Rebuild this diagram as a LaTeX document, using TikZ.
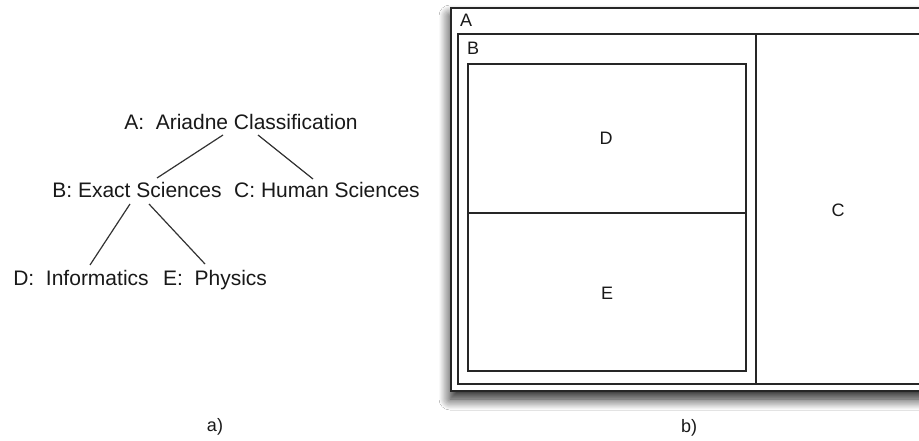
\documentclass[tikz,border=0pt]{standalone}
\usepackage{fontspec}
\setmainfont{Liberation Sans}
\usetikzlibrary{calc,shadows.blur}
\begin{document}
\begin{tikzpicture}[x=1pt,y=-1pt,
  treelabel/.style={font=\fontsize{21}{25}\selectfont, inner sep=0pt, anchor=base, text=black!90},
  boxlabel/.style={font=\fontsize{18}{22}\selectfont, inner sep=0pt, anchor=base, text=black!90},
  caption/.style={font=\fontsize{18}{22}\selectfont, inner sep=0pt, anchor=base, text=black!90},
  edge/.style={line width=1.2pt, draw=black!80},
  frame/.style={line width=1.4pt, draw=black!85}]
\useasboundingbox[fill=white] (0,0) rectangle (919,441);
\clip (0,0) rectangle (919,441);

% a) classification tree
\node[treelabel] (A) at (241,130) {A:\ \ Ariadne Classification};
\node[treelabel] (B) at (137,198) {B: Exact Sciences};
\node[treelabel] (C) at (327,198) {C: Human Sciences};
\node[treelabel] (D) at (81,285) {D:\ \ Informatics};
\node[treelabel] (E) at (215,285) {E:\ \ Physics};

\draw[edge] ($(A.base)+(-18,5)$) -- ($(B.base)+(20,-20)$);
\draw[edge] ($(A.base)+(17,5)$) -- ($(C.base)+(-14,-19)$);
\draw[edge] ($(B.base)+(-7,6)$) -- ($(D.base)+(9,-20)$);
\draw[edge] ($(B.base)+(12,6)$) -- ($(E.base)+(-10,-21)$);

\node[caption] (capa) at (215,431) {a)};

% b) nested boxes on a soft drop shadow
\path[fill=white, blur shadow={shadow xshift=-1pt, shadow yshift=-8pt, shadow blur radius=11pt, shadow blur steps=12, shadow opacity=90}]
  (451,8) rectangle (940,391);
\draw[frame] (451,8) rectangle (940,391);
\draw[frame] (458,34) rectangle (940,384);
\draw[frame] (756,34) -- (756,384);
\draw[frame] (468,64) rectangle (746,371);
\draw[frame] (468,213) -- (746,213);

\node[boxlabel, anchor=base west] (la) at (460,27) {A};
\node[boxlabel, anchor=base west] (lb) at (467,55) {B};
\node[boxlabel] (ld) at (606,145) {D};
\node[boxlabel] (le) at (607,299) {E};
\node[boxlabel] (lc) at (838,216) {C};

\node[caption] (capb) at (689,432) {b)};
\end{tikzpicture}
\end{document}
